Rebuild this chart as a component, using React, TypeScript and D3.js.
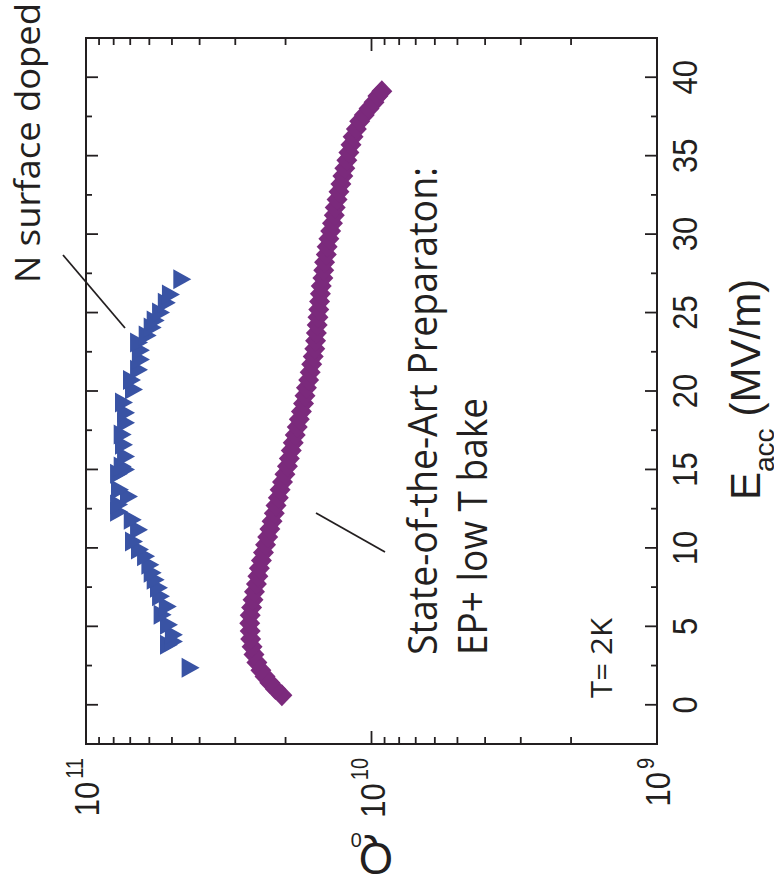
import React from "react";
import * as d3 from "d3";

// E_acc (MV/m) and Q0 (in units of 1e10)
const nDopedE = [2.36, 3.83, 4.04, 4.46, 5.1, 5.74, 6.27, 6.91, 7.46, 7.97, 8.42, 8.93, 9.46, 9.9, 10.41, 11.16, 11.8, 12.3, 12.76, 13.28, 13.7, 14.73, 15.0, 15.18, 15.82, 16.58, 17.22, 17.98, 18.62, 19.26, 20.09, 20.7, 21.36, 22.0, 22.6, 23.09, 23.53, 24.04, 24.5, 25.0, 25.62, 26.15, 27.12];
const nDopedQ = [4.3, 5.12, 4.92, 4.92, 5.12, 5.39, 5.17, 5.46, 5.55, 5.7, 5.84, 5.95, 6.16, 6.47, 6.79, 6.52, 6.86, 7.66, 7.66, 7.07, 7.6, 7.66, 7.24, 7.44, 7.24, 7.36, 7.44, 7.24, 7.24, 7.36, 6.79, 6.9, 6.52, 6.42, 6.42, 6.52, 6.08, 5.84, 5.7, 5.46, 5.21, 5.04, 4.6];

const epE = [0.6, 1.0, 1.4, 1.8, 2.2, 2.7, 3.2, 3.7, 4.2, 4.7, 5.2, 5.7, 6.2, 6.7, 7.2, 7.7, 8.2, 8.7, 9.2, 9.7, 10.2, 10.7, 11.2, 11.7, 12.2, 12.7, 13.2, 13.7, 14.2, 14.7, 15.2, 15.7, 16.2, 16.7, 17.2, 17.7, 18.2, 18.7, 19.2, 19.7, 20.2, 20.7, 21.2, 21.7, 22.2, 22.7, 23.2, 23.7, 24.2, 24.7, 25.2, 25.7, 26.2, 26.7, 27.2, 27.7, 28.2, 28.7, 29.2, 29.7, 30.2, 30.7, 31.2, 31.7, 32.2, 32.7, 33.2, 33.7, 34.2, 34.7, 35.2, 35.7, 36.2, 36.7, 37.2, 37.6, 38.0, 38.4, 38.8, 39.1];
const epQ = [2.06, 2.17, 2.27, 2.36, 2.44, 2.52, 2.58, 2.62, 2.65, 2.66, 2.67, 2.66, 2.63, 2.6, 2.57, 2.53, 2.5, 2.47, 2.43, 2.39, 2.35, 2.31, 2.27, 2.23, 2.19, 2.16, 2.12, 2.09, 2.05, 2.01, 1.97, 1.94, 1.91, 1.88, 1.85, 1.82, 1.79, 1.76, 1.73, 1.71, 1.69, 1.66, 1.64, 1.62, 1.6, 1.58, 1.57, 1.56, 1.55, 1.54, 1.53, 1.52, 1.51, 1.5, 1.48, 1.47, 1.46, 1.44, 1.43, 1.41, 1.39, 1.37, 1.35, 1.34, 1.32, 1.3, 1.28, 1.26, 1.24, 1.22, 1.2, 1.18, 1.16, 1.13, 1.1, 1.06, 1.02, 0.98, 0.95, 0.92];

const eTicks = [0, 5, 10, 15, 20, 25, 30, 35, 40];
const eMinorTicks = [2.5, 7.5, 12.5, 17.5, 22.5, 27.5, 32.5, 37.5];
const qDecades = [1e11, 1e10, 1e9];
const qDecadeExp = ["11", "10", "9"];
const qMinorMult = [2, 3, 4, 5, 6, 7, 8, 9];

const INK = "#231f20";
const PURPLE = "#7b2a7c";
const BLUE = "#3953a4";

export default function App() {
  const L = 86, R = 657, T = 38, B = 744;
  const y = d3.scaleLinear().domain([-2.5, 42.5]).range([B, T]);
  const x = d3.scaleLog().domain([1e11, 1e9]).range([L, R]);

  const qMinor: number[] = [];
  [1e9, 1e10].forEach((d) => qMinorMult.forEach((m) => qMinor.push(m * d)));

  const diamond = (cx: number, cy: number) =>
    `M${cx},${cy - 11}L${cx + 10.5},${cy}L${cx},${cy + 11}L${cx - 10.5},${cy}Z`;
  const tri = (cx: number, cy: number) =>
    `M${cx - 9},${cy - 10}L${cx + 9},${cy}L${cx - 9},${cy + 10}Z`;

  const tickFont = "'Liberation Sans', Arial, sans-serif";
  const annFont = "'Open Sans', 'Noto Sans', sans-serif";

  return (
    <svg width={774} height={895} style={{ position: "absolute", left: 0, top: 0, background: "#fff" }}>
      <rect x={0} y={0} width={774} height={895} fill="#fff" />
      {/* data */}
      <g fill={PURPLE}>
        {epE.map((e, i) => (
          <path key={i} d={diamond(x(epQ[i] * 1e10), y(e))} />
        ))}
      </g>
      <g fill={BLUE}>
        {nDopedE.map((e, i) => (
          <path key={i} d={tri(x(nDopedQ[i] * 1e10), y(e))} />
        ))}
      </g>

      {/* frame */}
      <rect x={L} y={T} width={R - L} height={B - T} fill="none" stroke={INK} strokeWidth={2} />

      {/* E ticks on left and right */}
      <g stroke={INK} strokeWidth={1.8}>
        {eTicks.map((v) => (
          <g key={"e" + v}>
            <line x1={L} x2={L + 12} y1={y(v)} y2={y(v)} />
            <line x1={R} x2={R - 12} y1={y(v)} y2={y(v)} />
          </g>
        ))}
        {eMinorTicks.map((v) => (
          <g key={"em" + v}>
            <line x1={L} x2={L + 6} y1={y(v)} y2={y(v)} />
            <line x1={R} x2={R - 6} y1={y(v)} y2={y(v)} />
          </g>
        ))}
        {qMinor.map((v) => (
          <g key={"qm" + v}>
            <line x1={x(v)} x2={x(v)} y1={B} y2={B - 7} />
            <line x1={x(v)} x2={x(v)} y1={T} y2={T + 7} />
          </g>
        ))}
        {qDecades.map((v) => (
          <g key={"q" + v}>
            <line x1={x(v)} x2={x(v)} y1={B} y2={B - 13} />
            <line x1={x(v)} x2={x(v)} y1={T} y2={T + 13} />
          </g>
        ))}
      </g>

      {/* E tick labels */}
      <g fill={INK} fontFamily={tickFont} fontSize={31}>
        {eTicks.map((v) => (
          <text key={"el" + v} transform={`translate(697,${y(v)}) rotate(-90) scale(1,1.15)`} textAnchor="middle">
            {v}
          </text>
        ))}
      </g>

      {/* Q tick labels */}
      <g fill={INK} fontFamily={tickFont} fontSize={31}>
        {qDecades.map((v, i) => (
          <text key={"ql" + v} transform={`translate(${x(v) + 13},758) rotate(-90) scale(1,1.15)`} textAnchor="end">
            <tspan>10</tspan>
            <tspan dx={3} dy={-14} fontSize={20}>{qDecadeExp[i]}</tspan>
          </text>
        ))}
      </g>

      {/* axis titles */}
      <text transform="translate(760,500) rotate(-90)" fill={INK} fontFamily={tickFont} fontSize={42}>
        <tspan>E</tspan>
        <tspan dy={14} fontSize={28}>acc</tspan>
        <tspan dx={12} dy={-14}>(MV/m)</tspan>
      </text>
      <text transform="translate(393,843) rotate(180)" fill={INK} fontFamily={tickFont} fontSize={44}>
        <tspan>Q</tspan>
        <tspan dx={-3} dy={10} fontSize={20}>0</tspan>
      </text>

      {/* annotations */}
      <g fill={INK} fontFamily={annFont}>
        <text transform="translate(40,283) rotate(-90)" fontSize={35} textLength={280} lengthAdjust="spacingAndGlyphs">
          N surface doped
        </text>
        <text transform="translate(437,655) rotate(-90)" fontSize={41} textLength={488} lengthAdjust="spacingAndGlyphs">
          State-of-the-Art Preparaton:
        </text>
        <text transform="translate(487,655) rotate(-90)" fontSize={41} textLength={257} lengthAdjust="spacingAndGlyphs">
          EP+ low T bake
        </text>
        <text transform="translate(612,698) rotate(-90)" fontSize={30} textLength={80} lengthAdjust="spacingAndGlyphs">
          T= 2K
        </text>
      </g>

      {/* leader lines */}
      <g stroke={INK} strokeWidth={1.8}>
        <line x1={63} y1={255} x2={125} y2={328} />
        <line x1={316} y1={513} x2={385} y2={552} />
      </g>
    </svg>
  );
}
